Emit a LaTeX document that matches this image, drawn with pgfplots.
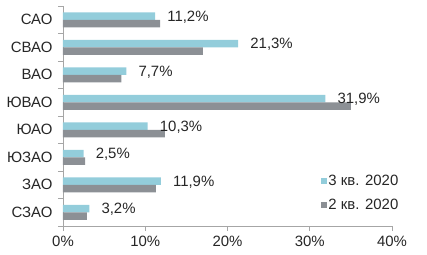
\documentclass[border=0pt]{standalone}
\usepackage{pgfplots}
\pgfplotsset{compat=1.18}
\usepackage{fontspec}
\setmainfont{Liberation Sans}
\definecolor{cyanbar}{HTML}{93CDDB}
\definecolor{graybar}{HTML}{8C9095}
\definecolor{axisgray}{HTML}{A6A6A6}
\definecolor{txt}{HTML}{262626}
\begin{document}
\begin{tikzpicture}[font=\fontsize{15}{17}\selectfont]
\useasboundingbox (-63bp,-29bp) rectangle (364bp,226bp);
\begin{axis}[
  at={(0,0)}, anchor=south west, scale only axis,
  width=329bp, height=220bp,
  xbar, bar width=7.5bp,
  xmin=0, xmax=40, ymin=-0.5, ymax=7.5,
  axis x line*=bottom, axis y line*=left,
  axis line style={axisgray, line width=0.8pt},
  tick align=outside, major tick length=5bp,
  tick style={axisgray, line width=0.8pt},
  /pgf/number format/assume math mode=true,
  xtick={0,10,20,30,40},
  xticklabel={\pgfmathprintnumber{\tick}\%},
  xticklabel style={yshift=-2bp},
  ytick={-0.5,0.5,1.5,2.5,3.5,4.5,5.5,6.5,7.5},
  yticklabels={},
  extra y ticks={0,1,2,3,4,5,6,7},
  extra y tick labels={СЗАО,ЗАО,ЮЗАО,ЮАО,ЮВАО,ВАО,СВАО,САО},
  extra y tick style={major tick length=0pt, tick style={draw=none}},
  tick label style={text=txt},
  yticklabel style={xshift=-7bp},
  legend style={at={(0.785,0.235)}, anchor=north west, draw=none, fill=none,
    inner sep=0pt, row sep=10bp, font=\fontsize{15}{17}\selectfont, text=txt,
    nodes={inner sep=1bp}},
  legend cell align=left,
  legend image code/.code={\fill[#1] (0bp,-3bp) rectangle (6bp,3bp);},
]
\addplot[fill=cyanbar, draw=none, bar shift=3.75bp,
  nodes near coords={\pgfmathprintnumber[fixed,fixed zerofill,precision=1,use comma]{\pgfplotspointmeta}\%},
  nodes near coords style={anchor=west, inner sep=0pt, xshift=12bp, yshift=-1bp, text=txt}]
  coordinates {(11.2,7) (21.3,6) (7.7,5) (31.9,4) (10.3,3) (2.5,2) (11.9,1) (3.2,0)};
\addplot[fill=graybar, draw=none, bar shift=-3.75bp]
  coordinates {(11.8,7) (17.0,6) (7.1,5) (35.0,4) (12.4,3) (2.7,2) (11.3,1) (2.9,0)};
\legend{3 кв. 2020, 2 кв. 2020}
\end{axis}
\end{tikzpicture}
\end{document}
